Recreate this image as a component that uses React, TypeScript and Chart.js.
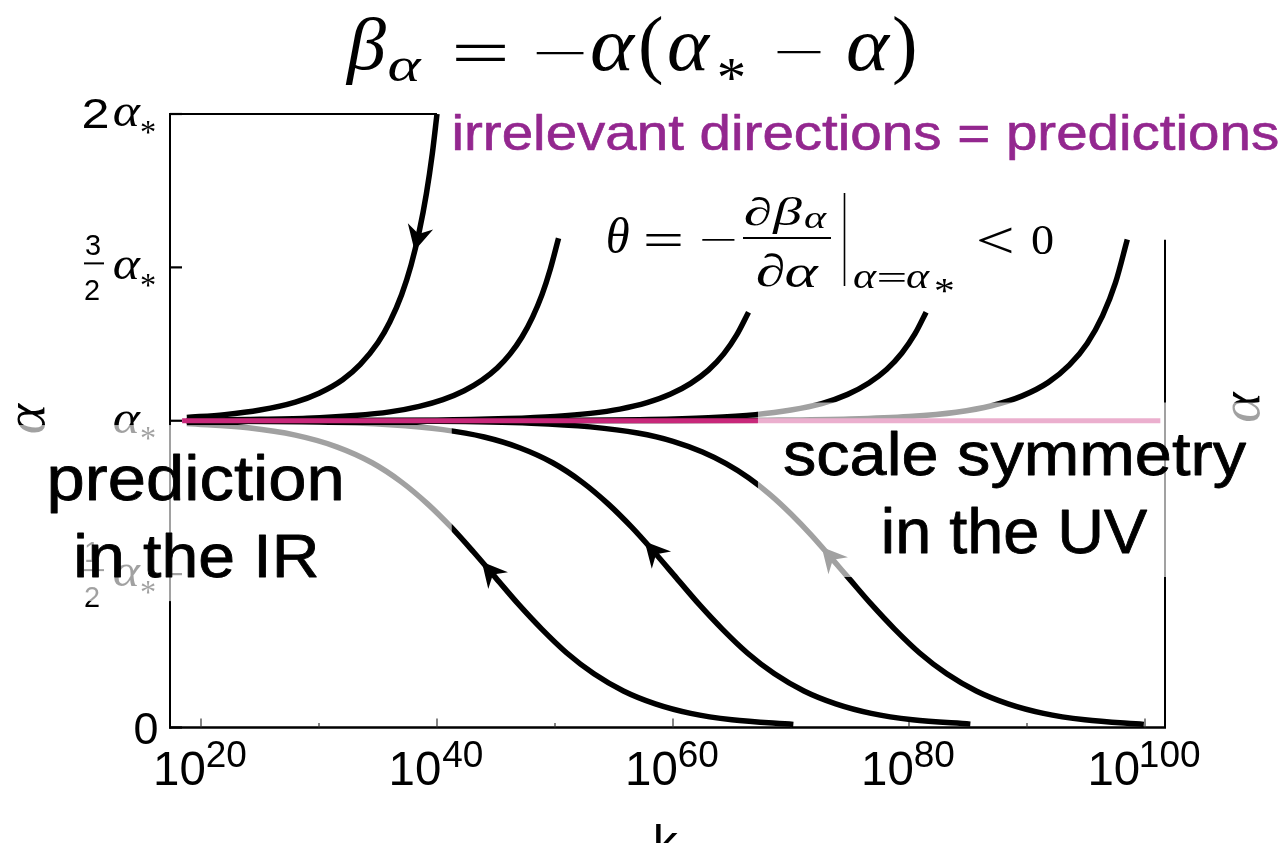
import React, { useEffect, useRef } from "react";
import { Chart, registerables } from "chart.js";

Chart.register(...registerables);

// ---------------- data: x = log10(k), y = α / α* ----------------
const flowUp1X = [18.8, 22, 25, 28, 30, 32, 33.5, 35, 36, 37, 37.8, 38.5, 39.1, 39.6, 40.0];
const flowUp1Y = [1.011, 1.02, 1.035, 1.061, 1.09, 1.134, 1.184, 1.255, 1.322, 1.411, 1.507, 1.618, 1.74, 1.87, 2.0];

const flowUp2X = [18.8, 24, 29, 33, 36, 38.5, 40.5, 42.3, 43.8, 45.1, 46.2, 47.2, 48.1, 48.9, 49.6, 50.3];
const flowUp2Y = [1.002, 1.004, 1.008, 1.017, 1.029, 1.047, 1.069, 1.098, 1.132, 1.172, 1.218, 1.273, 1.338, 1.411, 1.494, 1.595];

const flowUp3X = [18.8, 40, 46, 50, 53, 55.5, 57.8, 59.8, 61.5, 63, 64.3, 65.4, 66.4];
const flowUp3Y = [1.0, 1.002, 1.007, 1.014, 1.024, 1.038, 1.059, 1.087, 1.122, 1.165, 1.218, 1.28, 1.354];

const flowUp4X = [18.8, 50, 58, 63, 67, 70, 72.6, 74.8, 76.6, 78.1, 79.4, 80.5, 81.45];
const flowUp4Y = [1.0, 1.001, 1.004, 1.01, 1.02, 1.035, 1.056, 1.086, 1.123, 1.167, 1.221, 1.283, 1.354];

const flowUp5X = [18.8, 60, 68, 75, 80, 84, 87, 89.6, 91.8, 93.6, 95.1, 96.4, 97.5, 98.5];
const flowUp5Y = [1.0, 1.0005, 1.002, 1.006, 1.014, 1.028, 1.049, 1.081, 1.125, 1.182, 1.252, 1.342, 1.45, 1.591];

const flowDown1X = [18.8, 24, 28, 31.5, 34.5, 37, 39.2, 41.2, 43.1, 45, 46.9, 48.9, 51, 53.3, 55.8, 58.5, 61.5, 65, 70.2];
const flowDown1Y = [0.991, 0.977, 0.953, 0.915, 0.863, 0.8, 0.729, 0.653, 0.572, 0.487, 0.402, 0.32, 0.243, 0.175, 0.119, 0.077, 0.046, 0.025, 0.01];

const flowDown2X = [18.8, 30, 36, 40.5, 44, 47, 49.8, 52.3, 54.5, 56.5, 58.4, 60.3, 62.2, 64.2, 66.3, 68.6, 71.1, 73.8, 76.8, 80.3, 85.2];
const flowDown2Y = [0.999, 0.996, 0.987, 0.971, 0.947, 0.912, 0.863, 0.8, 0.729, 0.653, 0.572, 0.487, 0.402, 0.32, 0.243, 0.175, 0.119, 0.077, 0.046, 0.025, 0.011];

const flowDown3X = [18.8, 40, 48, 53, 57, 60, 62.5, 64.5, 66.4, 68.2, 70, 71.7, 73.3, 75, 76.8, 78.8, 80.9, 83.2, 85.7, 88.4, 91.4, 94.9, 99.9];
const flowDown3Y = [1.0, 0.998, 0.992, 0.98, 0.96, 0.933, 0.898, 0.86, 0.814, 0.76, 0.696, 0.628, 0.558, 0.482, 0.402, 0.32, 0.243, 0.175, 0.119, 0.077, 0.046, 0.025, 0.01];

const fixedPointX = [18.4, 101.3];
const fixedPointY = [1, 1];

const xTickValues = [20, 40, 60, 80, 100];
const xTickExponents = ["20", "40", "60", "80", "100"];
const xMinorTickValues = [30, 50, 70, 90];
const yTickValues = [0, 0.5, 1, 1.5, 2];
const yTickCoefficients = ["0", "1/2", "", "3/2", "2"];

const arrowCurveNames = ["up1", "down1", "down2", "down3"];
const arrowPositionsX = [38.1, 43.8, 57.6, 72.6];

// axis ranges
const X_MIN = 17.373;
const X_MAX = 101.695;
const Y_MIN = 0;
const Y_MAX = 2;
const TOP_FRAME_END_X = 40;
const RIGHT_FRAME_TOP_Y = 1.59;

// translucent veils (data units; null = canvas edge)
const veils = [
  { x0: null, x1: 41.25, yTop: 0.986, yBottom: 0.412 },
  { x0: 67.2, x1: null, yTop: 1.0595, yBottom: 0.4906 },
];

const SANS = '"Liberation Sans", Arial, Helvetica, sans-serif';
const SERIF = '"Liberation Serif", "Times New Roman", "DejaVu Serif", serif';
const MAGENTA = "#c8287a";
const PURPLE = "#93278f";

const curves = [
  { name: "up1", xs: flowUp1X, ys: flowUp1Y },
  { name: "up2", xs: flowUp2X, ys: flowUp2Y },
  { name: "up3", xs: flowUp3X, ys: flowUp3Y },
  { name: "up4", xs: flowUp4X, ys: flowUp4Y },
  { name: "up5", xs: flowUp5X, ys: flowUp5Y },
  { name: "down1", xs: flowDown1X, ys: flowDown1Y },
  { name: "down2", xs: flowDown2X, ys: flowDown2Y },
  { name: "down3", xs: flowDown3X, ys: flowDown3Y },
];

const zip = (xs: number[], ys: number[]) => xs.map((x, i) => ({ x, y: ys[i] }));

type Box = { l?: number; r?: number; t?: number; b?: number; base?: number; cy?: number };

function inkSize(ctx: any, text: string, font: string) {
  ctx.save();
  ctx.font = font;
  const m = ctx.measureText(text);
  ctx.restore();
  return {
    w: m.actualBoundingBoxLeft + m.actualBoundingBoxRight,
    h: m.actualBoundingBoxAscent + m.actualBoundingBoxDescent,
  };
}

function ink(ctx: any, text: string, font: string, box: Box, color = "#000", stroke = 0) {
  ctx.save();
  ctx.font = font;
  ctx.textAlign = "left";
  ctx.textBaseline = "alphabetic";
  const m = ctx.measureText(text);
  const bl = m.actualBoundingBoxLeft;
  const asc = m.actualBoundingBoxAscent;
  const w = bl + m.actualBoundingBoxRight;
  const h = asc + m.actualBoundingBoxDescent;
  let sx: number;
  let sy: number;
  if (box.l != null && box.r != null) {
    sx = (box.r - box.l) / w;
    if (box.t != null && box.b != null) sy = (box.b - box.t) / h;
    else if (box.t != null && box.base != null) sy = (box.base - box.t) / asc;
    else sy = sx;
  } else {
    sy = ((box.b as number) - (box.t as number)) / h;
    sx = sy;
  }
  const left = box.l != null ? box.l : (box.r as number) - w * sx;
  const top = box.t != null ? box.t : (box.cy as number) - (h * sy) / 2;
  ctx.translate(left, top);
  ctx.scale(sx, sy);
  ctx.fillStyle = color;
  ctx.fillText(text, bl, asc);
  if (stroke) {
    ctx.strokeStyle = color;
    ctx.lineWidth = stroke;
    ctx.lineJoin = "round";
    ctx.strokeText(text, bl, asc);
  }
  ctx.restore();
}

function seg(ctx: any, x0: number, y0: number, x1: number, y1: number, w: number, color = "#000") {
  ctx.save();
  ctx.strokeStyle = color;
  ctx.lineWidth = w;
  ctx.lineCap = "butt";
  ctx.beginPath();
  ctx.moveTo(x0, y0);
  ctx.lineTo(x1, y1);
  ctx.stroke();
  ctx.restore();
}

function curveAt(xs: number[], ys: number[], L: number) {
  for (let i = 0; i < xs.length - 1; i++) {
    if (L >= xs[i] && L <= xs[i + 1]) {
      const t = (L - xs[i]) / (xs[i + 1] - xs[i]);
      return ys[i] + t * (ys[i + 1] - ys[i]);
    }
  }
  return ys[ys.length - 1];
}

const decorPlugin = {
  id: "decor",
  beforeDatasetsDraw(chart: any) {
    const ctx = chart.ctx;
    const px = (v: number) => chart.scales.x.getPixelForValue(v);
    const py = (v: number) => chart.scales.y.getPixelForValue(v);
    const { left, right, top, bottom } = chart.chartArea;

    // frame
    seg(ctx, left, top - 1, left, bottom + 1, 2);
    seg(ctx, left - 1, bottom, right + 1, bottom, 2.5);
    seg(ctx, left - 1, top, px(TOP_FRAME_END_X), top, 2);
    seg(ctx, right, py(RIGHT_FRAME_TOP_Y), right, bottom, 2);

    // y ticks (inward)
    yTickValues.forEach((v) => seg(ctx, left, py(v), left + 12, py(v), 2.2));
    // x ticks (inward)
    xTickValues.forEach((v) => seg(ctx, px(v), bottom, px(v), bottom - 9, 1.2, "#333"));
    xMinorTickValues.forEach((v) => seg(ctx, px(v), bottom, px(v), bottom - 4.5, 1.2, "#333"));

    // y tick labels
    yTickValues.forEach((v, i) => {
      const y = py(v);
      const c = yTickCoefficients[i];
      if (c === "0") {
        ink(ctx, "0", `42px ${SANS}`, { r: 157, t: y - 15, b: y + 16 });
        return;
      }
      ink(ctx, "α", `italic 44px ${SERIF}`, { l: 114, r: 141, t: y - 10, b: y + 12 });
      ink(ctx, "*", `30px ${SERIF}`, { l: 141, r: 155, t: y + 8, b: y + 20 });
      if (c.includes("/")) {
        const [n, d] = c.split("/");
        ink(ctx, n, `26px ${SANS}`, { l: 85, t: y - 32, b: y - 12 });
        seg(ctx, 84, y - 4, 104, y - 4, 2);
        ink(ctx, d, `26px ${SANS}`, { l: 85, t: y + 13, b: y + 33 });
      } else if (c) {
        ink(ctx, c, `42px ${SANS}`, { l: 84, r: 108, t: y - 16, b: y + 14 });
      }
    });

    // x tick labels 10^n
    xTickValues.forEach((v, i) => {
      const x = px(v);
      const f10 = `46px ${SANS}`;
      const fs = `34px ${SANS}`;
      const s10 = inkSize(ctx, "10", f10);
      const ss = inkSize(ctx, xTickExponents[i], fs);
      const w10 = (s10.w * 33) / s10.h;
      const ws = (ss.w * 25) / ss.h;
      const gap = 2.5;
      const l0 = x - (w10 + gap + ws) / 2;
      ink(ctx, "10", f10, { l: l0, t: 752, b: 785 });
      ink(ctx, xTickExponents[i], fs, { l: l0 + w10 + gap, t: 742, b: 767 });
    });

    // axis labels
    const rotAlpha = (cx: number, cy: number) => {
      ctx.save();
      ctx.translate(cx, cy);
      ctx.rotate(-Math.PI / 2);
      ink(ctx, "α", `italic 48px ${SERIF}`, { l: -15, r: 15, cy: 0 });
      ctx.restore();
    };
    rotAlpha(30.5, 418);
    rotAlpha(1245, 406.5);
    ink(ctx, "k", `46px ${SANS}`, { l: 656, r: 679, t: 823 });
  },

  afterDatasetsDraw(chart: any) {
    const ctx = chart.ctx;
    const px = (v: number) => chart.scales.x.getPixelForValue(v);
    const py = (v: number) => chart.scales.y.getPixelForValue(v);

    // arrowheads (pointing towards the IR)
    arrowCurveNames.forEach((name, i) => {
      const c = curves.find((cc) => cc.name === name)!;
      const L = arrowPositionsX[i];
      const x1 = px(L);
      const y1 = py(curveAt(c.xs, c.ys, L));
      const x0 = px(L + 0.4);
      const y0 = py(curveAt(c.xs, c.ys, L + 0.4));
      let dx = x1 - x0;
      let dy = y1 - y0;
      const n = Math.hypot(dx, dy) || 1;
      dx /= n;
      dy /= n;
      const qx = -dy;
      const qy = dx;
      const len = 25;
      const half = 13;
      const notch = 17;
      ctx.save();
      ctx.fillStyle = "#000";
      ctx.beginPath();
      ctx.moveTo(x1, y1);
      ctx.lineTo(x1 - dx * len + qx * half, y1 - dy * len + qy * half);
      ctx.lineTo(x1 - dx * notch, y1 - dy * notch);
      ctx.lineTo(x1 - dx * len - qx * half, y1 - dy * len - qy * half);
      ctx.closePath();
      ctx.fill();
      ctx.restore();
    });

    // translucent veils behind the big labels
    ctx.save();
    ctx.fillStyle = "rgba(255,255,255,0.63)";
    veils.forEach((v) => {
      const x0 = v.x0 == null ? 0 : px(v.x0);
      const x1 = v.x1 == null ? chart.width : px(v.x1);
      const y0 = py(v.yTop);
      const y1 = py(v.yBottom);
      ctx.fillRect(x0, y0, x1 - x0, y1 - y0);
    });
    ctx.restore();

    // title  β_α = −α(α_* − α)
    const TI = `italic 80px ${SERIF}`;
    const TR = `80px ${SERIF}`;
    ink(ctx, "β", TI, { l: 345, r: 386, t: 18, b: 85 });
    ink(ctx, "α", TI, { l: 389, r: 422, t: 58, b: 82 });
    ink(ctx, "=", TR, { l: 455, r: 506, t: 44, b: 61 });
    ink(ctx, "−", TR, { l: 535, r: 584, t: 51.5, b: 54.5 });
    ink(ctx, "α", TI, { l: 592, r: 636, t: 34, b: 71 });
    ink(ctx, "(", TR, { l: 641, t: 15, b: 86 });
    ink(ctx, "α", TI, { l: 669, r: 711, t: 34, b: 71 });
    ink(ctx, "*", TR, { l: 719, r: 744, t: 60, b: 81 });
    ink(ctx, "−", TR, { l: 776, r: 821, t: 51, b: 54 });
    ink(ctx, "α", TI, { l: 848, r: 891, t: 34, b: 71 });
    ink(ctx, ")", TR, { l: 894, t: 15, b: 86 });

    // purple annotation
    ink(ctx, "irrelevant directions = predictions", `48px ${SANS}`, { l: 455, r: 1278, t: 113, base: 150 }, PURPLE, 0.6);

    // θ = −∂β_α/∂α |_{α=α*} < 0
    const FI = `italic 44px ${SERIF}`;
    const FR = `44px ${SERIF}`;
    ink(ctx, "θ", FI, { l: 608, r: 629, t: 218, b: 253 });
    ink(ctx, "=", FR, { l: 646, r: 681, t: 234, b: 247 });
    ink(ctx, "−", FR, { l: 702, r: 735, t: 239, b: 241.5 });
    ink(ctx, "∂", FI, { l: 745, r: 771, t: 197, b: 226 });
    ink(ctx, "β", FI, { l: 772, r: 802, t: 197, b: 233 });
    ink(ctx, "α", FI, { l: 805, r: 827, t: 213, b: 228 });
    seg(ctx, 743, 238, 831, 238, 1.8);
    ink(ctx, "∂", FI, { l: 757, r: 784, t: 253, b: 287 });
    ink(ctx, "α", FI, { l: 786, r: 819, t: 265, b: 287 });
    seg(ctx, 844.5, 193, 844.5, 286, 1.6);
    ink(ctx, "α", FI, { l: 854, r: 877, t: 271, b: 288 });
    ink(ctx, "=", FR, { l: 879, r: 905, t: 274, b: 283 });
    ink(ctx, "α", FI, { l: 907, r: 930, t: 271, b: 288 });
    ink(ctx, "*", FR, { l: 936, r: 953, t: 279, b: 293 });
    ink(ctx, "<", FR, { l: 979, r: 1012, t: 227, b: 253 });
    ink(ctx, "0", FR, { l: 1032, r: 1053, t: 226, b: 254 });

    // big labels
    const BIG = `62px ${SANS}`;
    ink(ctx, "prediction", BIG, { l: 51, r: 341, t: 455, base: 500 }, "#000", 0.8);
    ink(ctx, "in the IR", BIG, { l: 77.5, r: 316.5, t: 533, base: 577 }, "#000", 0.8);
    ink(ctx, "scale symmetry", BIG, { l: 784, r: 1246, t: 432, base: 475 }, "#000", 0.8);
    ink(ctx, "in the UV", BIG, { l: 885, r: 1148, t: 508, base: 553 }, "#000", 0.8);
  },
};

export default function App() {
  const ref = useRef<HTMLCanvasElement | null>(null);

  useEffect(() => {
    const canvas = ref.current;
    if (!canvas) return;
    const datasets: any[] = [
      {
        label: "fixed point α*",
        data: zip(fixedPointX, fixedPointY),
        borderColor: MAGENTA,
        borderWidth: 5,
        showLine: true,
        pointRadius: 0,
        clip: false,
        borderCapStyle: "butt",
      },
      ...curves.map((c) => ({
        label: c.name,
        data: zip(c.xs, c.ys),
        borderColor: "#000",
        borderWidth: 5.5,
        showLine: true,
        pointRadius: 0,
        cubicInterpolationMode: "monotone",
        clip: false,
        borderCapStyle: "butt",
        borderJoinStyle: "round",
      })),
    ];
    const chart = new Chart(canvas, {
      type: "scatter",
      data: { datasets },
      options: {
        responsive: false,
        animation: false,
        devicePixelRatio: 1,
        layout: { padding: { left: 170, right: 114, top: 114, bottom: 115.5 } },
        scales: {
          x: { type: "linear", min: X_MIN, max: X_MAX, display: false },
          y: { type: "linear", min: Y_MIN, max: Y_MAX, display: false },
        },
        plugins: { legend: { display: false }, tooltip: { enabled: false } },
        elements: { point: { radius: 0 } },
      },
      plugins: [decorPlugin],
    } as any);
    return () => chart.destroy();
  }, []);

  return (
    <div style={{ position: "fixed", left: 0, top: 0, width: 1279, height: 843, background: "#fff", overflow: "hidden" }}>
      <canvas ref={ref} width={1279} height={843} style={{ display: "block" }} />
    </div>
  );
}
